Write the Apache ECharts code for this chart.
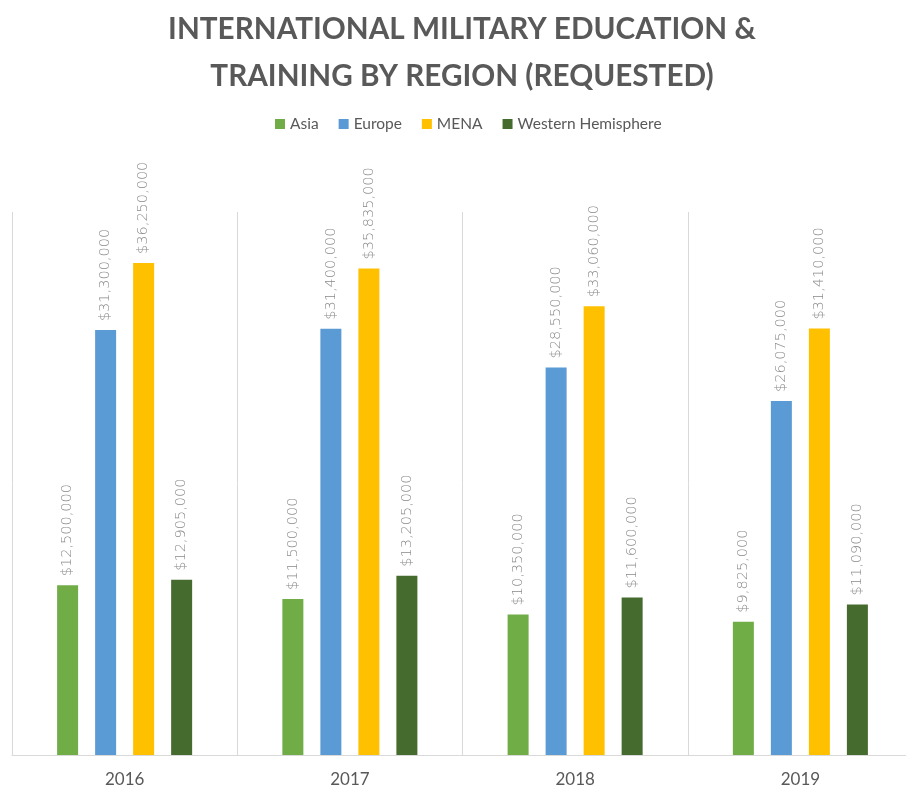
<!DOCTYPE html>
<html><head><meta charset="utf-8">
<script src="https://cdn.jsdelivr.net/npm/echarts@6/dist/echarts.min.js"></script>
<style>html,body{margin:0;padding:0;background:#fff}#c{width:906px;height:789px}</style>
</head><body><div id="c"></div>
<script>
const categories = ['2016','2017','2018','2019'];
const asia = [12500000, 11500000, 10350000, 9825000];
const europe = [31300000, 31400000, 28550000, 26075000];
const mena = [36250000, 35835000, 33060000, 31410000];
const westernHemisphere = [12905000, 13205000, 11600000, 11090000];
const seriesNames = ['Asia','Europe','MENA','Western Hemisphere'];
const colors = ['#70ad47','#5b9bd5','#ffc000','#466b2e'];

const fmt = v => '$' + v.toString().replace(/\B(?=(\d{3})+(?!\d))/g, ',');
const mk = (name, data, color) => ({
  name, type: 'bar', data, barWidth: 21, barGap: '81%',
  itemStyle: {color},
  label: {show: true, position: 'top', rotate: 90, align: 'left', verticalAlign: 'middle',
    distance: 9, color: '#8a8a8a', fontSize: 14.5, fontFamily: 'DejaVu Sans', fontWeight: 200,
    formatter: p => fmt(p.value)}
});
const chart = echarts.init(document.getElementById('c'));
chart.setOption({
  animation: false,
  title: {text: 'INTERNATIONAL MILITARY EDUCATION &\nTRAINING BY REGION (REQUESTED)', left: 462, top: 6,
    padding: 0, textAlign: 'center',
    textStyle: {color: '#595959', fontSize: 29.7, fontWeight: 'bold', fontFamily: 'Lato', lineHeight: 47}},
  legend: {data: seriesNames, top: 111, left: 270, itemWidth: 10, itemHeight: 10, itemGap: 20,
    icon: 'rect', textStyle: {color: '#595959', fontSize: 15.5, fontFamily: 'Lato'}},
  grid: {left: 12, width: 901, top: 212, bottom: 34, containLabel: false, outerBoundsMode: 'none'},
  xAxis: {type: 'category', data: categories,
    axisLine: {lineStyle: {color: '#d9d9d9'}}, axisTick: {show: false},
    axisLabel: {color: '#595959', fontSize: 17, fontFamily: 'Lato', margin: 16},
    splitLine: {show: true, lineStyle: {color: '#d9d9d9'}}},
  yAxis: {type: 'value', min: 0, max: 40000000, show: false, splitLine: {show: false}},
  series: [mk(seriesNames[0], asia, colors[0]), mk(seriesNames[1], europe, colors[1]),
           mk(seriesNames[2], mena, colors[2]), mk(seriesNames[3], westernHemisphere, colors[3])]
});
</script></body></html>
